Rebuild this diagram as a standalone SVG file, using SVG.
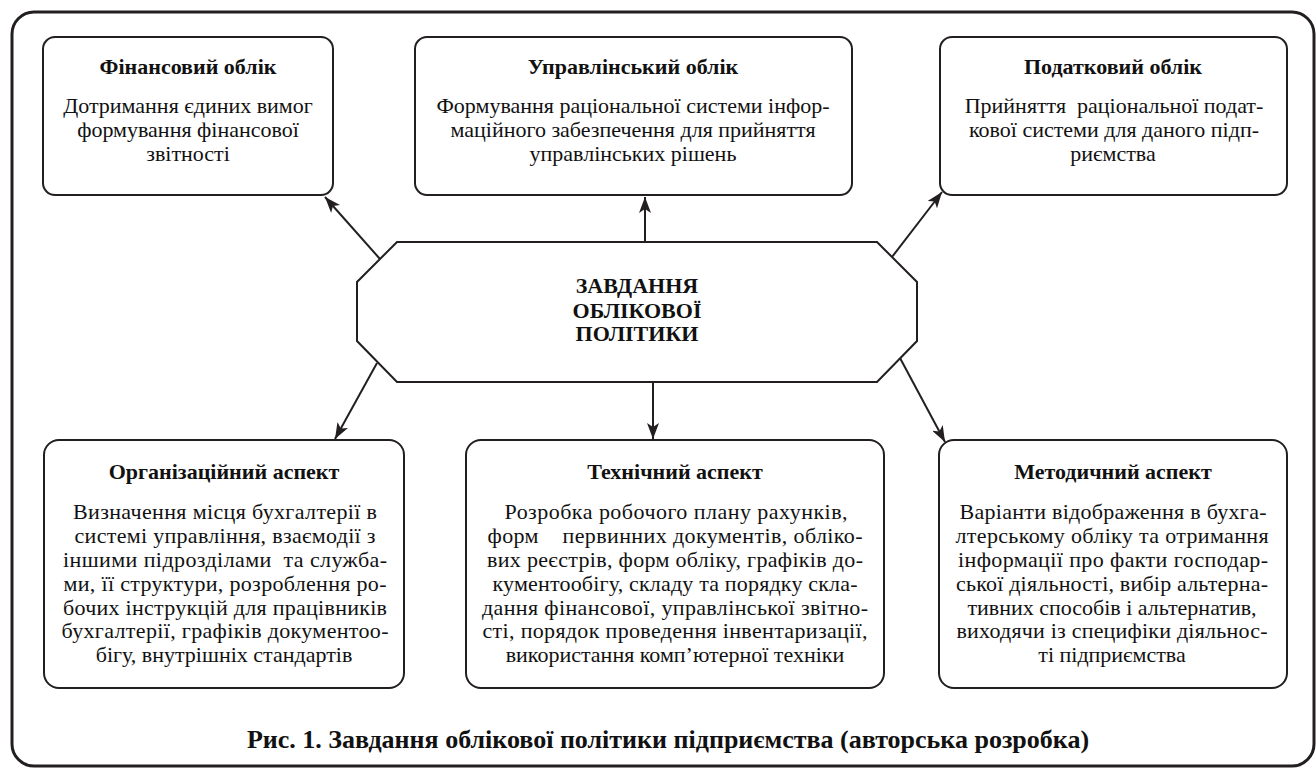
<svg xmlns="http://www.w3.org/2000/svg" width="1316" height="769" viewBox="0 0 1316 769">
<style>
.box{fill:#fff;stroke:#231f20;stroke-width:2}
.frame{fill:#fff;stroke:#231f20;stroke-width:3}
text{fill:#111;text-anchor:middle;white-space:pre}
.t{font-size:22px;font-weight:bold}
.b{font-size:22px}
.c{font-size:22px;font-weight:bold}
.cap{font-size:26px;font-weight:bold}
.con{stroke:#231f20;stroke-width:2;fill:none;marker-end:url(#ah)}
</style>
<defs>
<marker id="ah" markerUnits="userSpaceOnUse" markerWidth="16" markerHeight="12" viewBox="0 0 16 12" refX="16" refY="6" orient="auto">
<path d="M0,0 L16,6 L0,12 L4,6 z" fill="#231f20"/>
</marker>
</defs>
<rect class="frame" x="12" y="12" width="1302" height="754" rx="22"/>
<g id="connectors">
<line class="con" x1="380" y1="259" x2="325" y2="197"/>
<line class="con" x1="645" y1="242" x2="645" y2="197"/>
<line class="con" x1="892" y1="257" x2="942" y2="192"/>
<line class="con" x1="377" y1="363" x2="335" y2="439"/>
<line class="con" x1="653" y1="382" x2="653" y2="439"/>
<line class="con" x1="900" y1="358" x2="945" y2="442"/>
</g>
<g font-family="Liberation Serif, Tinos, Times New Roman, DejaVu Serif, serif">
<g id="center">
<polygon class="box" points="397,242 877,242 917,282 917,341 877,382 397,382 357,341 357,282"/>
<text class="c" x="637" y="293">ЗАВДАННЯ</text>
<text class="c" x="637" y="318">ОБЛІКОВОЇ</text>
<text class="c" x="637" y="341">ПОЛІТИКИ</text>
</g>
<g id="fin">
<rect class="box" x="43" y="37" width="290" height="158" rx="12"/>
<text class="t" x="188" y="74">Фінансовий облік</text>
<text class="b" x="188" y="113">Дотримання єдиних вимог</text>
<text class="b" x="188" y="137">формування фінансової</text>
<text class="b" x="188" y="161">звітності</text>
</g>
<g id="upr">
<rect class="box" x="415" y="37" width="437" height="158" rx="12"/>
<text class="t" x="633" y="74">Управлінський облік</text>
<text class="b" x="633" y="113">Формування раціональної системи інфор-</text>
<text class="b" x="633" y="137">маційного забезпечення для прийняття</text>
<text class="b" x="633" y="161">управлінських рішень</text>
</g>
<g id="pod">
<rect class="box" x="940" y="37" width="347" height="158" rx="12"/>
<text class="t" x="1113" y="74">Податковий облік</text>
<text class="b" x="1114" y="113">Прийняття  раціональної подат-</text>
<text class="b" x="1114" y="137">кової системи для даного підп-</text>
<text class="b" x="1113" y="161">риємства</text>
</g>
<g id="org">
<rect class="box" x="44" y="440" width="360" height="248" rx="15"/>
<text class="t" x="224" y="479">Організаційний аспект</text>
<text class="b" x="225" y="519" textLength="304" lengthAdjust="spacing">Визначення місця бухгалтерії в</text>
<text class="b" x="225" y="543" textLength="301" lengthAdjust="spacing">системі управління, взаємодії з</text>
<text class="b" x="225" y="567" textLength="324" lengthAdjust="spacing">іншими підрозділами  та служба-</text>
<text class="b" x="225" y="591" textLength="323" lengthAdjust="spacing">ми, її структури, розроблення ро-</text>
<text class="b" x="225" y="615" textLength="324" lengthAdjust="spacing">бочих інструкцій для працівників</text>
<text class="b" x="225" y="638" textLength="327" lengthAdjust="spacing">бухгалтерії, графіків документоо-</text>
<text class="b" x="224" y="662">бігу, внутрішніх стандартів</text>
</g>
<g id="tech">
<rect class="box" x="466" y="440" width="418" height="248" rx="15"/>
<text class="t" x="675" y="479">Технічний аспект</text>
<text class="b" x="676" y="519" textLength="343" lengthAdjust="spacing">Розробка робочого плану рахунків,</text>
<text class="b" x="675" y="543" textLength="375" lengthAdjust="spacing">форм    первинних документів, обліко-</text>
<text class="b" x="675" y="567" textLength="376" lengthAdjust="spacing">вих реєстрів, форм обліку, графіків до-</text>
<text class="b" x="675" y="591" textLength="365" lengthAdjust="spacing">кументообігу, складу та порядку скла-</text>
<text class="b" x="675" y="615" textLength="386" lengthAdjust="spacing">дання фінансової, управлінської звітно-</text>
<text class="b" x="675" y="638" textLength="385" lengthAdjust="spacing">сті, порядок проведення інвентаризації,</text>
<text class="b" x="675" y="662">використання комп’ютерної техніки</text>
</g>
<g id="met">
<rect class="box" x="939" y="440" width="348" height="248" rx="15"/>
<text class="t" x="1113" y="479">Методичний аспект</text>
<text class="b" x="1113" y="519" textLength="307" lengthAdjust="spacing">Варіанти відображення в бухга-</text>
<text class="b" x="1112" y="543" textLength="313" lengthAdjust="spacing">лтерському обліку та отримання</text>
<text class="b" x="1113" y="567" textLength="310" lengthAdjust="spacing">інформації про факти господар-</text>
<text class="b" x="1112" y="591" textLength="312" lengthAdjust="spacing">ської діяльності, вибір альтерна-</text>
<text class="b" x="1112" y="615">тивних способів і альтернатив,</text>
<text class="b" x="1112" y="638" textLength="311" lengthAdjust="spacing">виходячи із специфіки діяльнос-</text>
<text class="b" x="1112" y="662">ті підприємства</text>
</g>
<text class="cap" x="668" y="748">Рис. 1. Завдання облікової політики підприємства (авторська розробка)</text>
</g>
</svg>
